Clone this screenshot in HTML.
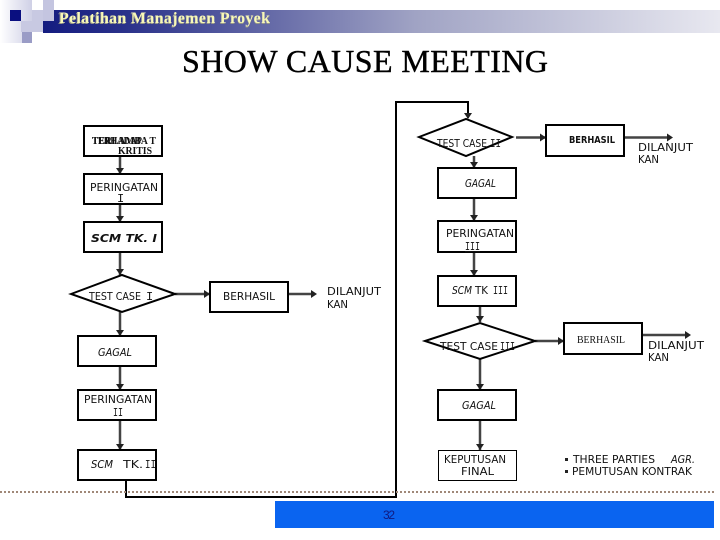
<!DOCTYPE html>
<html><head><meta charset="utf-8"><style>
html,body{margin:0;padding:0;background:#fff}
svg{display:block}
.t{font-family:"DejaVu Sans","Liberation Sans",sans-serif;font-size:11px;fill:#111}
.m{font-family:"Liberation Mono",monospace;font-size:12px;fill:#111}
.i{font-style:italic}
.b{fill:#fff;stroke:#000;stroke-width:2}
.l{fill:none;stroke:#444;stroke-width:2.5}
.k{fill:none;stroke:#000;stroke-width:2}
.h{font-family:"Liberation Serif",serif;font-weight:bold;font-size:16px}
.s{font-family:"Liberation Serif",serif;font-weight:bold;font-size:11px;fill:#111}
</style></head><body>
<svg width="720" height="540" viewBox="0 0 720 540" xmlns="http://www.w3.org/2000/svg">
<defs>
<linearGradient id="g" x1="0" x2="1" y1="0" y2="0"><stop offset="0" stop-color="#141c80"/><stop offset=".12" stop-color="#2a318a"/><stop offset=".55" stop-color="#a0a3c4"/><stop offset="1" stop-color="#e8e8f0"/></linearGradient>
<linearGradient id="f" x1="0" x2="1" y1="0" y2="0"><stop offset="0" stop-color="#fff"/><stop offset="1" stop-color="#cfd0e6"/></linearGradient>
</defs>
<rect x="43" y="10" width="677" height="23" fill="url(#g)"/>
<rect x="0" y="0" width="32" height="43" fill="url(#f)"/>
<rect x="32" y="10" width="11" height="11" fill="#c8c9e2"/>
<rect x="43" y="0" width="11" height="21" fill="#c4c5e0"/>
<rect x="21" y="21" width="22" height="11" fill="#c8c9e2"/>
<rect x="22" y="32" width="10" height="11" fill="#9a9cc6"/>
<rect x="10" y="10" width="11" height="11" fill="#0a0f80"/>
<text class="h" x="58" y="24" fill="#9a9a88" textLength="212">Pelatihan Manajemen Proyek</text>
<text class="h" x="59" y="23" fill="#f8f8b8" textLength="211">Pelatihan Manajemen Proyek</text>
<text x="182" y="72" font-family="'Liberation Serif',serif" font-size="32" fill="#000" stroke="#000" stroke-width=".4" textLength="366">SHOW CAUSE MEETING</text>

<!-- connectors -->
<g class="l">
<path d="M120 156V174M120 204V222M120 252V275M120 312V336M120 366V390M120 420V450"/>
<path d="M175 294H210M289 294H312"/>
<path d="M474 156V168M474 198V221M474 252V276M480 306V322M480 359V390M480 420V450"/>
<path d="M516 137.500H546M624 137.500H668"/>
<path d="M535 341H564M642 335H686"/>
</g>
<path class="k" d="M126 480V497H396V102H468V118" />
<g fill="#222">
<path d="M116 168h8l-4 6zM116 216h8l-4 6zM116 269h8l-4 6zM116 330h8l-4 6zM116 384h8l-4 6zM116 444h8l-4 6z"/>
<path d="M464 113h8l-4 6zM470 162h8l-4 6zM470 215h8l-4 6zM470 270h8l-4 6zM476 316h8l-4 6zM476 384h8l-4 6zM476 444h8l-4 6z"/>
<path d="M204 290v8l6-4zM311 290v8l6-4zM540 133.500v8l6-4zM667 133.500v8l6-4zM558 337v8l6-4zM685 331v8l6-4z"/>
</g>

<!-- shapes -->
<rect class="b" x="84" y="126" width="78" height="30"/>
<rect class="b" x="84" y="174" width="78" height="30"/>
<rect class="b" x="84" y="222" width="78" height="30"/>
<polygon class="b" points="71,294 122,275 175,294 122,312"/>
<rect class="b" x="210" y="282" width="78" height="30"/>
<rect class="b" x="78" y="336" width="78" height="30"/>
<rect class="b" x="78" y="390" width="78" height="30"/>
<rect class="b" x="78" y="450" width="78" height="30"/>
<polygon class="b" points="419,137 466,119 512,137 466,156"/>
<rect class="b" x="546" y="125" width="78" height="31"/>
<rect class="b" x="438" y="168" width="78" height="30"/>
<rect class="b" x="438" y="221" width="78" height="31"/>
<rect class="b" x="438" y="276" width="78" height="30"/>
<polygon class="b" points="425,341 480,323 535,341 480,359"/>
<rect class="b" x="564" y="323" width="78" height="31"/>
<rect class="b" x="438" y="390" width="78" height="30"/>
<rect x="438.500" y="450.500" width="78" height="30" fill="#fff" stroke="#000" stroke-width="1"/>

<!-- labels -->
<g lengthAdjust="spacingAndGlyphs">
<text class="s" x="92" y="144" textLength="64" lengthAdjust="spacingAndGlyphs">TERLAMBA T</text>
<text class="s" x="92" y="144" textLength="50" lengthAdjust="spacingAndGlyphs">TERHADAP</text>
<text class="s" x="118" y="154" textLength="34" lengthAdjust="spacingAndGlyphs">KRITIS</text>
<text class="t" x="90" y="191" textLength="68" lengthAdjust="spacingAndGlyphs">PERINGATAN</text>
<text class="m" x="117" y="202">I</text>
<text class="t" x="91" y="242" style="font-weight:bold;font-size:11px;font-style:italic" textLength="66" lengthAdjust="spacingAndGlyphs">SCM TK. I</text>
<text class="t" x="89" y="300" textLength="52" lengthAdjust="spacingAndGlyphs">TEST CASE</text>
<text class="m" x="146" y="300">I</text>
<text class="t" x="223" y="300" textLength="52" lengthAdjust="spacingAndGlyphs">BERHASIL</text>
<text class="t" x="327" y="295" textLength="54" lengthAdjust="spacingAndGlyphs">DILANJUT</text>
<text class="t" x="327" y="308" textLength="21" lengthAdjust="spacingAndGlyphs">KAN</text>
<text class="t i" x="98" y="356" textLength="34" lengthAdjust="spacingAndGlyphs">GAGAL</text>
<text class="t" x="84" y="403" textLength="68" lengthAdjust="spacingAndGlyphs">PERINGATAN</text>
<text class="m" x="113" y="416" textLength="10" lengthAdjust="spacingAndGlyphs">II</text>
<text class="t i" x="91" y="468" textLength="22" lengthAdjust="spacingAndGlyphs">SCM</text>
<text class="t" x="123" y="468" textLength="20" lengthAdjust="spacingAndGlyphs">TK.</text>
<text class="m" x="145" y="468" textLength="11" lengthAdjust="spacingAndGlyphs">II</text>
<text class="t" x="437" y="147" textLength="50" lengthAdjust="spacingAndGlyphs">TEST CASE</text>
<text class="m" x="490" y="147" textLength="11" lengthAdjust="spacingAndGlyphs">II</text>
<text class="t" x="569" y="143" textLength="46" lengthAdjust="spacingAndGlyphs" style="font-size:10px;font-weight:bold">BERHASIL</text>
<text class="t" x="638" y="151" textLength="55" lengthAdjust="spacingAndGlyphs">DILANJUT</text>
<text class="t" x="638" y="163" textLength="21" lengthAdjust="spacingAndGlyphs">KAN</text>
<text class="t i" x="465" y="187" textLength="31" lengthAdjust="spacingAndGlyphs">GAGAL</text>
<text class="t" x="446" y="237" textLength="68" lengthAdjust="spacingAndGlyphs">PERINGATAN</text>
<text class="m" x="465" y="250" textLength="15" lengthAdjust="spacingAndGlyphs" text-decoration="underline">III</text>
<text class="t i" x="452" y="294" textLength="20" lengthAdjust="spacingAndGlyphs">SCM</text>
<text class="t" x="475" y="294" textLength="13" lengthAdjust="spacingAndGlyphs">TK</text>
<text class="m" x="493" y="294" textLength="15" lengthAdjust="spacingAndGlyphs">III</text>
<text class="t" x="440" y="350" textLength="58" lengthAdjust="spacingAndGlyphs">TEST CASE</text>
<text class="m" x="500" y="350" textLength="15" lengthAdjust="spacingAndGlyphs">III</text>
<text class="s" x="577" y="343" textLength="48" lengthAdjust="spacingAndGlyphs" style="font-size:11px;font-weight:normal">BERHASIL</text>
<text class="t" x="648" y="349" textLength="56" lengthAdjust="spacingAndGlyphs">DILANJUT</text>
<text class="t" x="648" y="361" textLength="21" lengthAdjust="spacingAndGlyphs">KAN</text>
<text class="t i" x="462" y="409" textLength="34" lengthAdjust="spacingAndGlyphs">GAGAL</text>
<text class="t" x="444" y="463" textLength="62" lengthAdjust="spacingAndGlyphs">KEPUTUSAN</text>
<text class="t" x="461" y="475" textLength="33" lengthAdjust="spacingAndGlyphs">FINAL</text>
<rect x="565" y="458" width="3" height="3" fill="#222"/>
<text class="t" x="573" y="463" textLength="82" lengthAdjust="spacingAndGlyphs">THREE PARTIES</text>
<text class="t i" x="671" y="463" textLength="24" lengthAdjust="spacingAndGlyphs">AGR.</text>
<rect x="565" y="470" width="3" height="3" fill="#222"/>
<text class="t" x="572" y="475" textLength="120" lengthAdjust="spacingAndGlyphs">PEMUTUSAN  KONTRAK</text>
</g>

<line x1="0" y1="492" x2="716" y2="492" stroke="#a08878" stroke-width="2" stroke-dasharray="2 2"/>
<rect x="275" y="501" width="439" height="27" fill="#0a64f0"/>
<text x="383" y="519" font-family="'Liberation Sans',sans-serif" font-size="12" fill="#101a80" textLength="12">32</text>
</svg>
</body></html>
